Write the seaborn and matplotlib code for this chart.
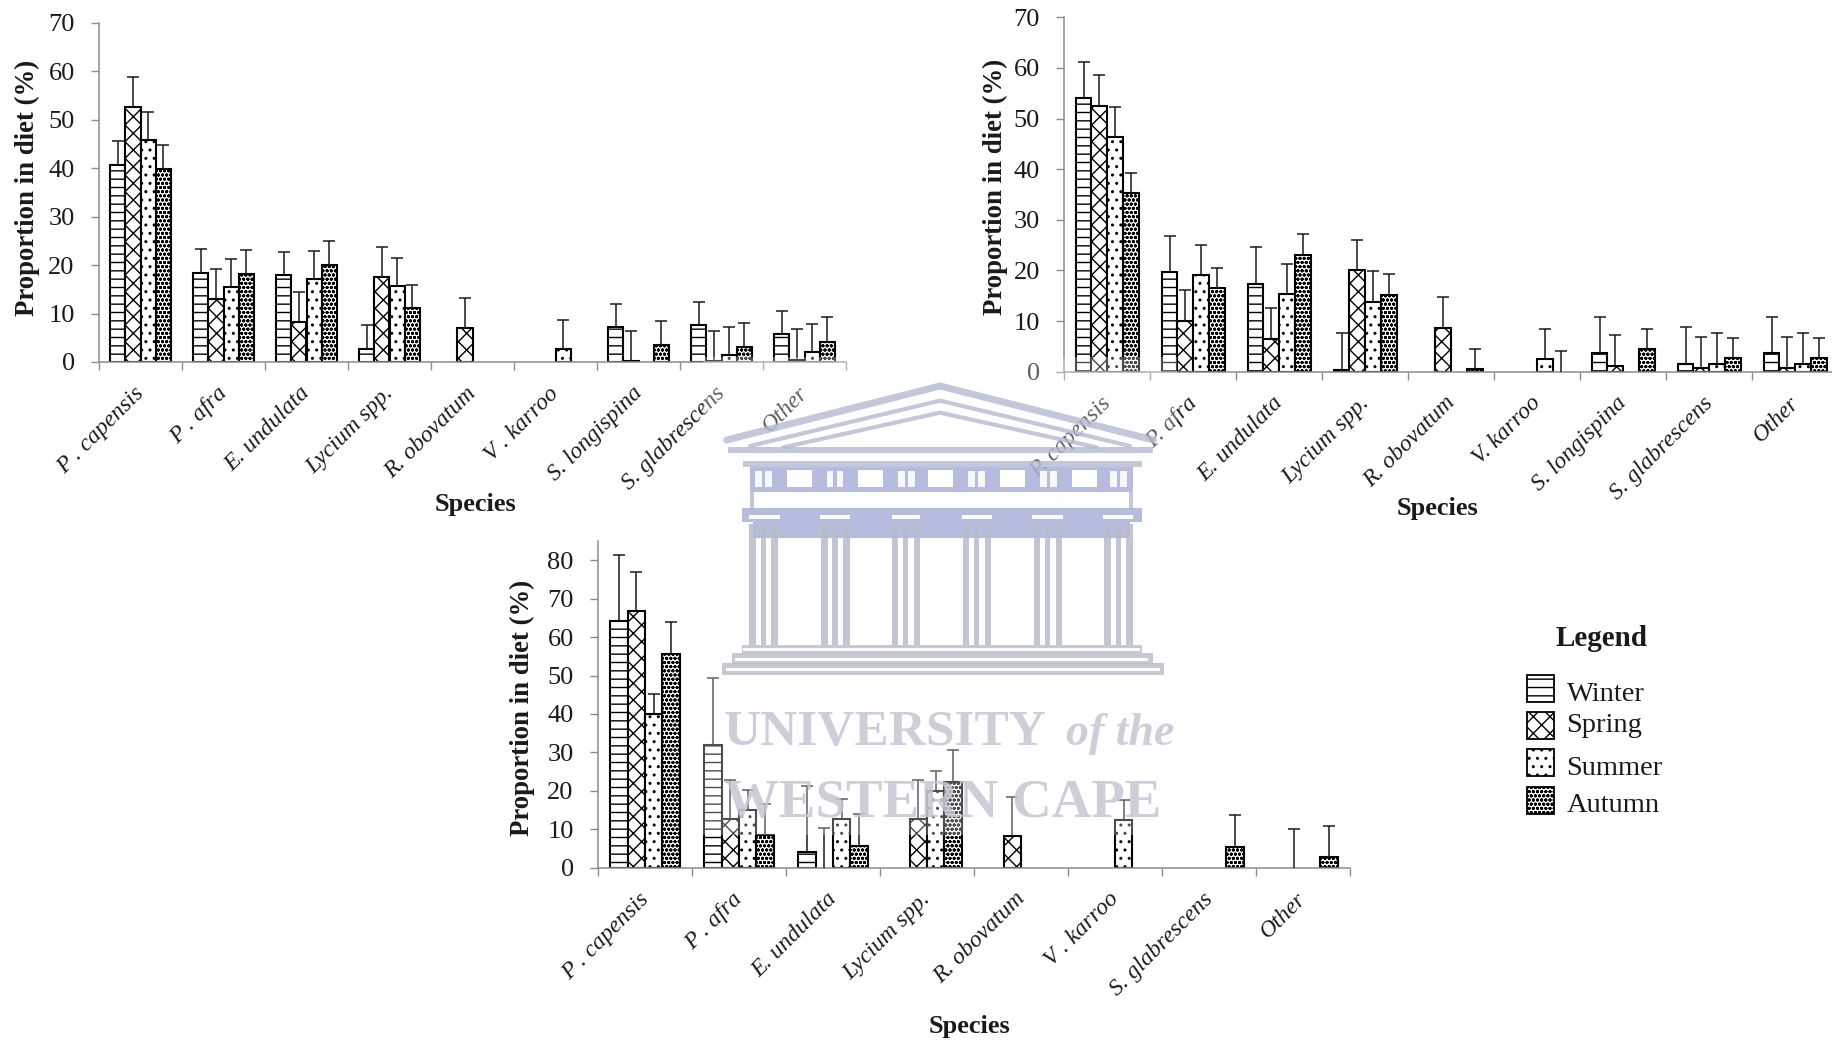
import pandas as pd
import matplotlib
matplotlib.use('Agg')
import matplotlib.pyplot as plt
from matplotlib.patches import Rectangle
from matplotlib.transforms import ScaledTranslation
import seaborn as sns

seasons = ['Winter', 'Spring', 'Summer', 'Autumn']
hatches = ['--', 'xx', '..', 'oooo']

# top left chart
species_a = ['P . capensis', 'P . afra', 'E. undulata', 'Lycium spp.', 'R. obovatum',
             'V . karroo', 'S. longispina', 'S. glabrescens', 'Other']
a_winter = [40.7, 18.4, 17.9, 2.7, 0, 0, 7.2, 7.6, 5.8]
a_spring = [52.6, 13.1, 8.2, 17.6, 7.1, 0, 0.3, 0.3, 0.5]
a_summer = [45.8, 15.4, 17.1, 15.6, 0, 2.7, 0, 1.4, 2.1]
a_autumn = [39.9, 18.2, 20.0, 11.1, 0, 0, 3.6, 3.2, 4.2]
a_winter_top = [45.6, 23.3, 22.8, 7.6, 0, 0, 12.0, 12.4, 10.6]
a_spring_top = [58.8, 19.3, 14.4, 23.7, 13.2, 0, 6.4, 6.4, 6.8]
a_summer_top = [51.6, 21.3, 22.9, 21.5, 0, 8.6, 0, 7.2, 7.8]
a_autumn_top = [44.9, 23.2, 24.9, 16.0, 0, 0, 8.5, 8.1, 9.2]

# top right chart
species_b = ['P. capensis', 'P. afra', 'E. undulata', 'Lycium spp.', 'R. obovatum',
             'V. karroo', 'S. longispina', 'S. glabrescens', 'Other']
b_winter = [54.0, 19.6, 17.4, 0.4, 0, 0, 3.6, 1.6, 3.6]
b_spring = [52.5, 10.0, 6.5, 20.0, 8.6, 0, 1.1, 0.7, 0.7]
b_summer = [46.3, 19.1, 15.3, 13.8, 0, 2.5, 0, 1.6, 1.6]
b_autumn = [35.2, 16.5, 23.1, 15.1, 0.5, 0, 4.5, 2.7, 2.7]
b_winter_top = [61.2, 26.9, 24.6, 7.6, 0, 0, 10.8, 8.8, 10.8]
b_spring_top = [58.6, 16.1, 12.6, 26.1, 14.7, 0, 7.2, 6.8, 6.8]
b_summer_top = [52.2, 25.0, 21.3, 19.8, 0, 8.5, 0, 7.6, 7.6]
b_autumn_top = [39.2, 20.5, 27.2, 19.2, 4.5, 4.1, 8.5, 6.7, 6.7]

# bottom chart
species_c = ['P . capensis', 'P . afra', 'E. undulata', 'Lycium spp.', 'R. obovatum',
             'V . karroo', 'S. glabrescens', 'Other']
c_winter = [64.2, 32.0, 4.1, 0, 0, 0, 0, 0]
c_spring = [66.8, 12.6, 0, 12.6, 8.3, 0, 0, 0]
c_summer = [40.0, 15.1, 12.6, 20.0, 0, 12.4, 0, 0]
c_autumn = [55.6, 8.4, 5.6, 22.4, 0, 0, 5.5, 2.7]
c_winter_top = [81.4, 49.4, 21.3, 0, 0, 0, 0, 0]
c_spring_top = [77.0, 22.8, 10.2, 22.8, 18.5, 0, 0, 10.1]
c_summer_top = [45.2, 20.2, 17.8, 25.2, 0, 17.5, 0, 0]
c_autumn_top = [64.0, 16.6, 13.9, 30.5, 0, 0, 13.6, 10.9]

W, H = 1832, 1040
AXIS = '#8c8c8c'
INK = '#1a1a1a'
WM = '#b4b9d2'
WM_DARK = '#a9b1d8'
WM_GREY = '#b8bcca'
WM_TEXT = '#c4c7d4'

sns.set_theme(style='white')
plt.rcParams['font.family'] = ['Liberation Serif', 'DejaVu Serif']
plt.rcParams['hatch.linewidth'] = 1.0

fig = plt.figure(figsize=(W / 100, H / 100), dpi=100)


def px_axes(left, right, top, bottom):
    return fig.add_axes([left / W, 1 - bottom / H, (right - left) / W, (bottom - top) / H])


def draw_panel(ax, species, values, tops, ymax, yticks):
    df = pd.DataFrame({
        'species': species * 4,
        'season': [s for s in seasons for _ in species],
        'value': [v for vals in values for v in vals],
    })
    sns.barplot(data=df, x='species', y='value', hue='season', order=species, hue_order=seasons,
                palette=['white'] * 4, saturation=1, edgecolor='black', linewidth=1.5,
                width=0.735, gap=0, errorbar=None, legend=False, ax=ax)

    for container, hatch, vals, upper in zip(ax.containers, hatches, values, tops):
        xs = []
        ys = []
        errs = []
        for bar, v, t in zip(container, vals, upper):
            bar.set_hatch(hatch)
            if v == 0:
                bar.set_visible(False)
            if t > 0:
                xs.append(bar.get_x() + bar.get_width() / 2)
                ys.append(v)
                errs.append(t - v)
        # one sided bars: drop the cap at the bottom end
        _, caps, _ = ax.errorbar(xs, ys, yerr=[[0] * len(errs), errs], fmt='none', ecolor=INK,
                                 elinewidth=1.1, capsize=4.4, capthick=1.1, zorder=4)
        caps[0].set_visible(False)

    ax.set_xlim(-0.5, len(species) - 0.5)
    ax.set_ylim(0, ymax)
    ax.set_yticks(yticks)
    ax.set_xticks(range(len(species)))
    ax.set_xticks([i - 0.5 for i in range(len(species) + 1)], minor=True)
    ax.set_xticklabels(species, rotation=45, ha='right', rotation_mode='anchor',
                       fontsize=17, style='italic', color=INK)
    ax.tick_params(axis='x', which='major', length=0, pad=15)
    ax.tick_params(axis='x', which='minor', length=5.5, width=1, color=AXIS, bottom=True)
    ax.tick_params(axis='y', length=6, width=1, color=AXIS, labelsize=19, labelcolor=INK,
                   left=True, pad=11.5)
    # labels sit a little left of the group centre
    shift = ScaledTranslation(-7 / 100, 0, fig.dpi_scale_trans)
    for label in ax.get_xticklabels():
        label.set_transform(label.get_transform() + shift)
    ax.set_xlabel('')
    ax.set_ylabel('')
    ax.patch.set_alpha(0)
    sns.despine(ax=ax)
    for side in ['left', 'bottom']:
        ax.spines[side].set_color(AXIS)
        ax.spines[side].set_linewidth(1.1)


draw_panel(px_axes(99, 846, 23, 362), species_a,
           [a_winter, a_spring, a_summer, a_autumn],
           [a_winter_top, a_spring_top, a_summer_top, a_autumn_top], 70, range(0, 71, 10))
draw_panel(px_axes(1064.3, 1838.3, 17.3, 371.7), species_b,
           [b_winter, b_spring, b_summer, b_autumn],
           [b_winter_top, b_spring_top, b_summer_top, b_autumn_top], 70, range(0, 71, 10))
draw_panel(px_axes(598, 1350, 541, 867.7), species_c,
           [c_winter, c_spring, c_summer, c_autumn],
           [c_winter_top, c_spring_top, c_summer_top, c_autumn_top], 85, range(0, 81, 10))

# axis titles, placed by hand
for x, y in [(27, 187.5), (995, 187), (522, 707.5)]:
    fig.text(x / W, 1 - y / H, 'Proportion in diet (%)', rotation=90, ha='center', va='center',
             fontsize=19.3, fontweight='bold', color=INK)
for x, y in [(475.5, 504), (1438, 508), (970, 1026)]:
    fig.text(x / W, 1 - y / H, 'Species', ha='center', va='center',
             fontsize=19, fontweight='bold', color=INK)

# legend
fig.text(1601.7 / W, 1 - 638 / H, 'Legend', ha='center', va='center',
         fontsize=21, fontweight='bold', color=INK)
box_y = [688, 725.5, 762.5, 800]
text_y = [701, 732, 775, 812]
for season, hatch, by, ty in zip(seasons, hatches, box_y, text_y):
    fig.add_artist(Rectangle((1526.5 / W, 1 - (by + 13.5) / H), 27 / W, 27 / H,
                             transform=fig.transFigure, facecolor='white',
                             edgecolor='black', linewidth=1.3, hatch=hatch))
    fig.text(1566.5 / W, 1 - ty / H, season, ha='left', va='baseline', fontsize=20.5, color=INK)

# university watermark, over the charts
wm = fig.add_axes([0, 0, 1, 1], zorder=5)
wm.set_xlim(0, W)
wm.set_ylim(H, 0)
wm.axis('off')
wm.patch.set_alpha(0)


def zx(v):
    return 700 + v / 3


def zy(v):
    return 370 + v / 3


def block(x0, x1, y0, y1, color=WM, alpha=0.8):
    wm.add_patch(Rectangle((zx(x0), zy(y0)), (x1 - x0) / 3, (y1 - y0) / 3, facecolor=color,
                           edgecolor='none', alpha=alpha))


def slit(x0, x1, y0, y1, alpha=1):
    wm.add_patch(Rectangle((zx(x0), zy(y0)), (x1 - x0) / 3, (y1 - y0) / 3, facecolor='white',
                           edgecolor='none', alpha=alpha))


wm.add_patch(Rectangle((703, 357), 474, 478, facecolor='white', edgecolor='none', alpha=0.3))

# roof
for apex, end, dx, lw in [(48, 210, 640, 5), (92, 228, 570, 3), (128, 232, 470, 3)]:
    wm.plot([zx(720 - dx), zx(720), zx(720 + dx)], [zy(end), zy(apex), zy(end)],
            color=WM, lw=lw, alpha=0.8, solid_capstyle='round', solid_joinstyle='miter')
block(85, 1360, 230, 248)
block(130, 1325, 272, 292)

# frieze with windows
block(150, 1300, 292, 365, WM_DARK, 0.85)
for x in [260, 475, 685, 900, 1115]:
    slit(x, x + 75, 300, 352)
for x in [165, 195, 380, 410, 595, 625, 805, 835, 1020, 1050, 1230, 1260]:
    slit(x, x + 20, 302, 350, 0.9)
block(150, 162, 365, 420)
block(1288, 1300, 365, 420)
block(125, 1325, 415, 455, WM_DARK, 0.85)
block(160, 1290, 455, 505, WM_DARK, 0.85)
for x0, x1 in [(148, 240), (360, 450), (575, 660), (785, 875), (997, 1090), (1208, 1300)]:
    slit(x0, x1, 435, 448)

# columns
for x in [190, 405, 617, 830, 1043, 1255]:
    for off, wide in [(-42, 20), (-8, 16), (24, 20)]:
        block(x + off, x + off + wide, 462, 825, WM_GREY, 0.85)

# steps
block(125, 1325, 825, 850, WM_GREY)
block(95, 1358, 850, 882, WM_GREY)
block(65, 1392, 880, 915, WM_GREY)
slit(130, 1320, 834, 842)
slit(105, 1345, 864, 873)
slit(78, 1380, 894, 903)

wm.text(zx(72), zy(1125), 'UNIVERSITY', fontsize=37, fontweight='bold', color=WM_TEXT,
        alpha=0.85, ha='left', va='baseline')
wm.text(zx(1098), zy(1125), 'of the', fontsize=33, fontweight='bold', style='italic',
        color=WM_TEXT, alpha=0.85, ha='left', va='baseline')
wm.text(zx(72), zy(1340), 'WESTERN CAPE', fontsize=39.5, fontweight='bold', color=WM_TEXT,
        alpha=0.85, ha='left', va='baseline')

fig.savefig('out.png', dpi=100, facecolor='white')
